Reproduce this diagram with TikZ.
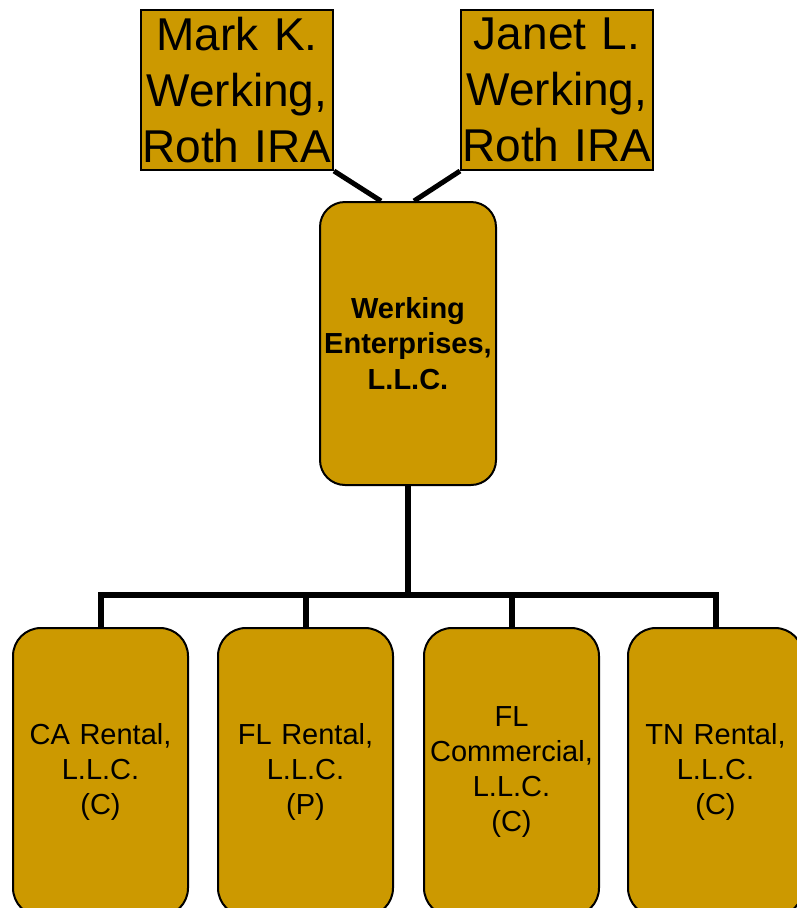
\documentclass[tikz,border=0pt]{standalone}
\usepackage{fontspec}
\setmainfont{Liberation Sans}
\definecolor{gold}{HTML}{CC9900}
\begin{document}
\begin{tikzpicture}[x=1pt,y=-1pt,
  ownerbox/.style={draw=black,line width=2pt,fill=gold,minimum width=192pt,minimum height=160pt,inner sep=0pt,text width=192pt,align=center,font=\fontsize{46}{56}\selectfont},
  midbox/.style={draw=black,line width=2pt,fill=gold,rounded corners=25pt,minimum width=176pt,minimum height=283pt,inner sep=0pt,text width=176pt,align=center,font=\fontsize{29}{35.5}\selectfont\bfseries},
  subbox/.style={draw=black,line width=2pt,fill=gold,rounded corners=28pt,minimum width=175pt,minimum height=288pt,inner sep=0pt,text width=175pt,align=center,font=\fontsize{29}{35}\selectfont},
  link/.style={draw=black,line width=6pt,line join=miter}]
\useasboundingbox (0,0) rectangle (796,908);
\node[ownerbox] (mark) at (237,90) {Mark K.\\Werking,\\Roth IRA};
\node[ownerbox] (janet) at (557,90) {Janet L.\\Werking,\\Roth IRA};
\node[midbox] (werk) at (408,343.5) {Werking\\Enterprises,\\L.L.C.};
\node[subbox] (b1) at (100.5,772) {CA Rental,\\L.L.C.\\(C)};
\node[subbox] (b2) at (305.5,772) {FL Rental,\\L.L.C.\\(P)};
\node[subbox] (b3) at (511.5,772) {FL\\Commercial,\\L.L.C.\\(C)};
\node[subbox] (b4) at (715.5,772) {TN Rental,\\L.L.C.\\(C)};
\coordinate (bus) at (408,595);
\draw[link,line width=5pt] (mark.south east) -- ([xshift=-27pt]werk.north);
\draw[link,line width=5pt] (janet.south west) -- ([xshift=6pt]werk.north);
\draw[link] (werk.south) -- (bus);
\draw[link] (b1.north) -- (b1.north |- bus) -- (b4.north |- bus) -- (b4.north);
\draw[link] (b2.north) -- (b2.north |- bus);
\draw[link] (b3.north) -- (b3.north |- bus);
\end{tikzpicture}
\end{document}
